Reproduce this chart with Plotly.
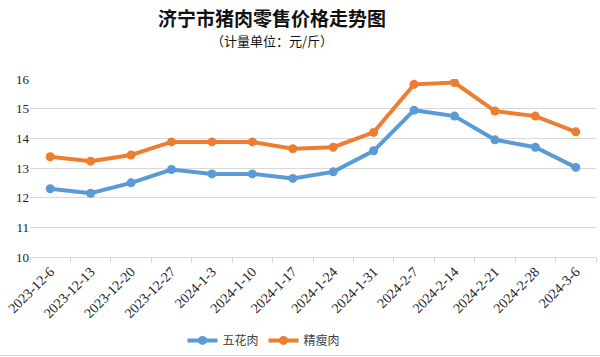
import plotly.graph_objects as go

dates = ["2023-12-6", "2023-12-13", "2023-12-20", "2023-12-27", "2024-1-3", "2024-1-10",
         "2024-1-17", "2024-1-24", "2024-1-31", "2024-2-7", "2024-2-14", "2024-2-21",
         "2024-2-28", "2024-3-6"]
wuhua = [12.3, 12.15, 12.5, 12.95, 12.8, 12.8, 12.65, 12.87, 13.58, 14.95, 14.75, 13.95, 13.7, 13.02]
jingshou = [13.38, 13.23, 13.44, 13.88, 13.88, 13.88, 13.65, 13.7, 14.2, 15.82, 15.88, 14.92, 14.75, 14.22]
y_ticks = [10, 11, 12, 13, 14, 15, 16]

serif = "Liberation Serif, Times New Roman, serif"
cjk = "Noto Sans CJK SC"

PH = 177.7  # plot height px
PW = 566    # plot width px

fig = go.Figure()
fig.add_trace(go.Scatter(x=dates, y=wuhua, name="五花肉", mode="lines+markers",
                         line=dict(color="#5B9BD5", width=4),
                         marker=dict(size=9, color="#5B9BD5")))
fig.add_trace(go.Scatter(x=dates, y=jingshou, name="精瘦肉", mode="lines+markers",
                         line=dict(color="#ED7D31", width=4),
                         marker=dict(size=9, color="#ED7D31")))

fig.update_layout(
    width=600, height=357,
    margin=dict(l=30, r=4, t=79, b=100, autoexpand=False),
    paper_bgcolor="white", plot_bgcolor="white",
    showlegend=True,
    legend=dict(orientation="h", x=(264 - 30) / PW, xanchor="center",
                y=-(340 - 256.7) / PH, yanchor="middle",
                font=dict(family=cjk, size=12, color="#404040"),
                itemwidth=30, tracegroupgap=0),
)
fig.add_annotation(text="<b>济宁市猪肉零售价格走势图</b>", xref="paper", yref="paper",
                   x=(272 - 30) / PW, y=1 + (79 - 18) / PH, yanchor="middle", showarrow=False,
                   font=dict(family=cjk, size=19, color="#111111"))
fig.add_annotation(text="（计量单位：元/斤）", xref="paper", yref="paper",
                   x=(272 - 30) / PW, y=1 + (79 - 41) / PH, yanchor="middle", showarrow=False,
                   font=dict(family=cjk, size=13, color="#111111"))

fig.update_xaxes(type="category", range=[-0.5, len(dates) - 0.5], autorange=False,
                 showgrid=False, showline=True, linecolor="#d9d9d9", linewidth=1,
                 ticks="outside", tickson="boundaries", ticklen=5, tickcolor="#d9d9d9",
                 tickangle=-45, automargin=False,
                 tickfont=dict(family=serif, size=14, color="#222222"))
fig.update_yaxes(range=[10, 16], tickvals=y_ticks, showgrid=True, gridcolor="#d9d9d9", gridwidth=1,
                 zeroline=False, showline=False, ticks="", automargin=False,
                 tickfont=dict(family=serif, size=13, color="#222222"))

fig.add_shape(type="line", xref="paper", yref="paper", x0=-30 / PW, x1=1 + 4 / PW,
              y0=-(355 - 256.7) / PH, y1=-(355 - 256.7) / PH,
              line=dict(color="#d9d9d9", width=1))

fig.write_html("out.html", config={"displayModeBar": False},
               post_script="document.body.style.margin='0';document.body.style.overflow='hidden';")
